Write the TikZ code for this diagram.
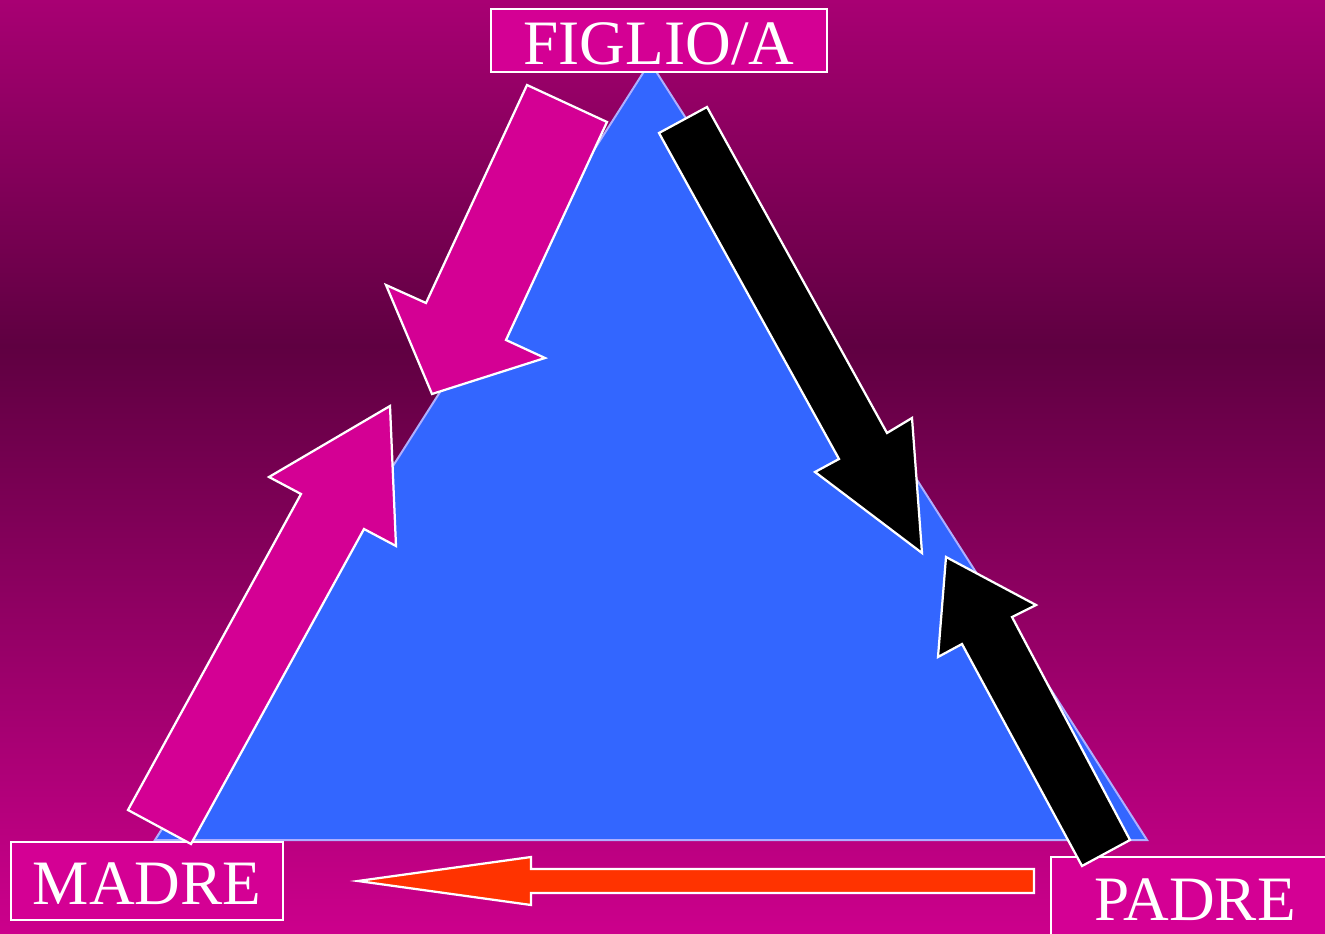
\documentclass[tikz,border=0pt]{standalone}
\usepackage{fontspec}
\setmainfont{Liberation Serif}
\usetikzlibrary{positioning}
\definecolor{plum}{RGB}{95,0,65}
\definecolor{plumtop}{RGB}{168,0,115}
\definecolor{plumbot}{RGB}{204,0,140}
\definecolor{fuchsia}{RGB}{212,0,148}
\definecolor{sky}{RGB}{51,102,255}
\definecolor{lilac}{RGB}{175,175,255}
\definecolor{flame}{RGB}{255,51,0}
\pgfdeclareverticalshading{backdrop}{100bp}{color(0bp)=(plumbot); color(25bp)=(plumbot);
  color(56.5bp)=(plum); color(75bp)=(plumtop); color(100bp)=(plumtop)}
\tikzset{
  label box/.style={draw=white,line width=0.45mm,fill=fuchsia,text=white,inner sep=0pt,
    font=\fontsize{36}{40}\selectfont,text height=27pt,text depth=0pt},
  block/.style={draw=white,line width=0.45mm,fill=#1,line join=miter},
  block/.default=fuchsia,
}
\begin{document}
\begin{tikzpicture}[x=0.2mm,y=-0.2mm]
  \useasboundingbox (0,0) rectangle (1325,934);
  \clip (0,0) rectangle (1325,934);
  \fill[shading=backdrop] (0,0) rectangle (1325,934);
  % triangle
  \fill[sky,draw=lilac,line width=0.4mm] (650,62) -- (1147,840) -- (155,840) -- cycle;
  % people
  \node[label box,minimum width=67.2mm,minimum height=12.6mm] (child) at (659,40.5) {FIGLIO/A};
  \node[label box,minimum width=54.4mm,minimum height=15.6mm] (mother) at (147,881) {MADRE};
  \node[label box,minimum width=57.6mm,minimum height=17mm,text height=24pt] (father) at (1195,899.5) {PADRE};
  % arrows
  \draw[block] (527,85) -- (607,122) -- (506,340) -- (545,358) -- (432,394) -- (386,285) -- (426,303) -- cycle;
  \draw[block] (128,810) -- (191,844) -- (364,529) -- (396,546) -- (390,406) -- (269,477) -- (301,494) -- cycle;
  \draw[block=black] (659,133) -- (707,107) -- (887,433) -- (912,418) -- (922,553) -- (815,472) -- (839,459) -- cycle;
  \draw[block=black] (1082,866) -- (1130,840) -- (1012,617) -- (1036,605) -- (946,557) -- (938,657) -- (962,644) -- cycle;
  \draw[block=flame] (1034,869) -- (1034,893) -- (531,893) -- (531,905) -- (358,881) -- (531,857) -- (531,869) -- cycle;
\end{tikzpicture}
\end{document}
